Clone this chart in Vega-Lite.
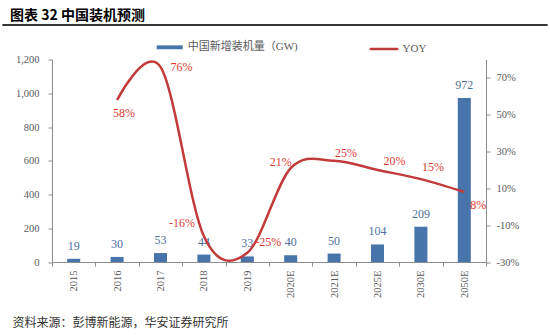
{
  "$schema": "https://vega.github.io/schema/vega-lite/v6.json",
  "width": 545,
  "height": 285.5,
  "autosize": {"type": "none"},
  "padding": {"left": 2, "top": 24.5, "right": 3, "bottom": 25},
  "view": {"stroke": null},
  "title": {
    "text": "图表 32 中国装机预测",
    "anchor": "start",
    "frame": "group",
    "dx": 8,
    "dy": 16,
    "offset": 4,
    "baseline": "bottom",
    "font": "Noto Sans CJK SC",
    "fontSize": 14,
    "fontWeight": "bold",
    "color": "#000000"
  },
  "config": {
    "font": "Liberation Serif, Noto Sans CJK SC",
    "axis": {
      "labelFont": "Liberation Serif, Noto Sans CJK SC",
      "labelFontSize": 10.5,
      "labelColor": "#595959",
      "domainColor": "#8c8c8c",
      "tickColor": "#8c8c8c",
      "tickSize": 4,
      "grid": false
    },
    "legend": {
      "labelFont": "Liberation Serif, Noto Sans CJK SC",
      "labelFontSize": 11,
      "labelColor": "#595959",
      "padding": 0
    }
  },
  "data": {
    "values": [
      {"year": "2015", "gw": 19, "yoy": null, "yoyLabel": null},
      {"year": "2016", "gw": 30, "yoy": 0.58, "yoyLabel": "58%"},
      {"year": "2017", "gw": 53, "yoy": 0.76, "yoyLabel": "76%"},
      {"year": "2018", "gw": 44, "yoy": -0.16, "yoyLabel": "-16%"},
      {"year": "2019", "gw": 33, "yoy": -0.25, "yoyLabel": "-25%"},
      {"year": "2020E", "gw": 40, "yoy": 0.21, "yoyLabel": "21%"},
      {"year": "2021E", "gw": 50, "yoy": 0.25, "yoyLabel": "25%"},
      {"year": "2025E", "gw": 104, "yoy": 0.20, "yoyLabel": "20%"},
      {"year": "2030E", "gw": 209, "yoy": 0.15, "yoyLabel": "15%"},
      {"year": "2050E", "gw": 972, "yoy": 0.08, "yoyLabel": "8%"}
    ]
  },
  "layer": [
    {
      "layer": [
        {
          "encoding": {
            "x": {
              "field": "year",
              "type": "ordinal",
              "scale": {"range": [50, 484], "paddingInner": 0, "paddingOuter": 0},
              "axis": {
                "orient": "bottom",
                "offset": -48,
                "tickBand": "extent",
                "labelAngle": 270,
                "labelAlign": "right",
                "labelBaseline": "middle",
                "labelPadding": 4,
                "title": "资料来源：彭博新能源，华安证券研究所",
                "titleX": 10,
                "titleY": 60.5,
                "titleAlign": "left",
                "titleBaseline": "middle",
                "titleFont": "Noto Sans CJK SC",
                "titleFontSize": 12,
                "titleFontWeight": "normal",
                "titleColor": "#333333"
              }
            },
            "y": {
              "field": "gw",
              "type": "quantitative",
              "scale": {"domain": [0, 1200], "range": [237.5, 35], "nice": false, "zero": true},
              "axis": {
                "orient": "left",
                "offset": -50,
                "values": [0, 200, 400, 600, 800, 1000, 1200],
                "format": ",d",
                "labelPadding": 9,
                "title": null
              }
            }
          },
          "layer": [
            {
              "mark": {"type": "bar", "width": {"band": 0.3}},
              "encoding": {
                "fill": {
                  "datum": "中国新增装机量（GW)",
                  "type": "nominal",
                  "scale": {"range": ["#4674ab"]},
                  "legend": {
                    "orient": "none",
                    "legendX": 154.7,
                    "legendY": 9.8,
                    "title": null,
                    "symbolType": "M-1,-0.15H1V0.15H-1Z",
                    "symbolSize": 676,
                    "symbolStrokeWidth": 0,
                    "labelOffset": 5
                  }
                }
              }
            },
            {
              "mark": {"type": "text", "baseline": "alphabetic", "align": "center", "dy": -9, "fontSize": 12, "color": "#4e6f9b", "font": "Liberation Serif"},
              "encoding": {"text": {"field": "gw", "type": "quantitative"}}
            }
          ]
        },
        {
          "transform": [{"filter": "datum.yoy != null"}],
          "encoding": {
            "x": {"field": "year", "type": "ordinal"},
            "y": {
              "field": "yoy",
              "type": "quantitative",
              "scale": {"domain": [-0.3, 0.8], "range": [237.5, 35], "nice": false, "zero": false},
              "axis": {
                "orient": "right",
                "offset": -61,
                "values": [-0.3, -0.1, 0.1, 0.3, 0.5, 0.7],
                "labelExpr": "(datum.value < 0 ? '-' : '') + format(abs(datum.value), '.0%')",
                "labelPadding": 6,
                "title": null
              }
            }
          },
          "layer": [
            {
              "mark": {"type": "line", "interpolate": "cardinal", "strokeWidth": 2.5},
              "encoding": {
                "stroke": {
                  "datum": "YOY",
                  "type": "nominal",
                  "scale": {"range": ["#c23b3b"]},
                  "legend": {
                    "orient": "none",
                    "legendX": 366,
                    "legendY": 8.5,
                    "title": null,
                    "symbolType": "stroke",
                    "symbolSize": 820,
                    "symbolStrokeWidth": 2.5,
                    "labelOffset": 2.5
                  }
                }
              }
            },
            {"transform": [{"filter": "datum.year == '2016'"}], "mark": {"type": "text", "dx": 7, "dy": 13, "baseline": "middle", "fontSize": 12, "color": "#de3a32", "font": "Liberation Serif"}, "encoding": {"text": {"field": "yoyLabel", "type": "nominal"}}},
            {"transform": [{"filter": "datum.year == '2017'"}], "mark": {"type": "text", "dx": 21, "dy": 0, "baseline": "middle", "fontSize": 12, "color": "#de3a32", "font": "Liberation Serif"}, "encoding": {"text": {"field": "yoyLabel", "type": "nominal"}}},
            {"transform": [{"filter": "datum.year == '2018'"}], "mark": {"type": "text", "dx": -22, "dy": -13, "baseline": "middle", "fontSize": 12, "color": "#de3a32", "font": "Liberation Serif"}, "encoding": {"text": {"field": "yoyLabel", "type": "nominal"}}},
            {"transform": [{"filter": "datum.year == '2019'"}], "mark": {"type": "text", "dx": 21, "dy": -11, "baseline": "middle", "fontSize": 12, "color": "#de3a32", "font": "Liberation Serif"}, "encoding": {"text": {"field": "yoyLabel", "type": "nominal"}}},
            {"transform": [{"filter": "datum.year == '2020E'"}], "mark": {"type": "text", "dx": -10, "dy": -6, "baseline": "middle", "fontSize": 12, "color": "#de3a32", "font": "Liberation Serif"}, "encoding": {"text": {"field": "yoyLabel", "type": "nominal"}}},
            {"transform": [{"filter": "datum.year == '2021E'"}], "mark": {"type": "text", "dx": 12, "dy": -8, "baseline": "middle", "fontSize": 12, "color": "#de3a32", "font": "Liberation Serif"}, "encoding": {"text": {"field": "yoyLabel", "type": "nominal"}}},
            {"transform": [{"filter": "datum.year == '2025E'"}], "mark": {"type": "text", "dx": 17, "dy": -9, "baseline": "middle", "fontSize": 12, "color": "#de3a32", "font": "Liberation Serif"}, "encoding": {"text": {"field": "yoyLabel", "type": "nominal"}}},
            {"transform": [{"filter": "datum.year == '2030E'"}], "mark": {"type": "text", "dx": 12, "dy": -12, "baseline": "middle", "fontSize": 12, "color": "#de3a32", "font": "Liberation Serif"}, "encoding": {"text": {"field": "yoyLabel", "type": "nominal"}}},
            {"transform": [{"filter": "datum.year == '2050E'"}], "mark": {"type": "text", "dx": 14, "dy": 13, "baseline": "middle", "fontSize": 12, "color": "#de3a32", "font": "Liberation Serif"}, "encoding": {"text": {"field": "yoyLabel", "type": "nominal"}}}
          ]
        }
      ],
      "resolve": {"scale": {"y": "independent"}}
    },
    {
      "mark": {"type": "point", "opacity": 0},
      "encoding": {
        "x": {
          "datum": 0,
          "type": "quantitative",
          "scale": {"domain": [0, 1], "range": [0, 545]},
          "axis": {"orient": "top", "offset": 0, "domainColor": "#2b2b2b", "domainWidth": 1.5, "ticks": false, "labels": false, "title": null, "grid": false}
        }
      }
    },
    {
      "mark": {"type": "point", "opacity": 0},
      "encoding": {
        "x": {
          "datum": 0,
          "type": "quantitative",
          "scale": {"domain": [0, 1], "range": [0, 545]},
          "axis": {"orient": "bottom", "offset": -285.5, "domainColor": "#2b2b2b", "domainWidth": 1.5, "ticks": false, "labels": false, "title": null, "grid": false}
        }
      }
    }
  ],
  "resolve": {"scale": {"x": "independent", "y": "independent"}}
}
